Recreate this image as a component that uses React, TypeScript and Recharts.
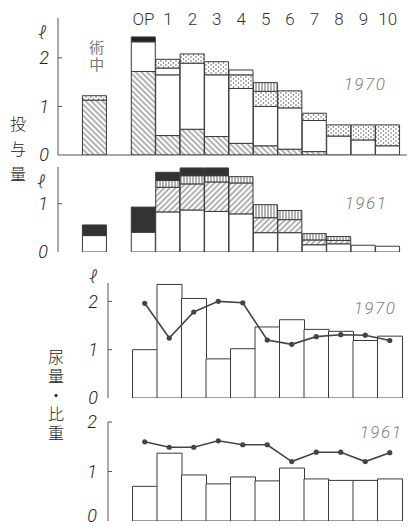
import { BarChart, Bar, ComposedChart, Line, XAxis, YAxis } from 'recharts'

const W = 411
const H = 527

// slots: leading pad, intra-op, gap, OP day, post-op days 1-10
const infusionSlots = ['', '術中', ' ', 'OP', '1', '2', '3', '4', '5', '6', '7', '8', '9', '10']
const urineSlots = [' ', 'OP', '1', '2', '3', '4', '5', '6', '7', '8', '9', '10']
const yTicks2 = [0, 1, 2]
const yTicks1 = [0, 1]

// 1970 infusion volume (l), stacked bottom to top
const hatch1970 = [null, 1.13, null, 1.72, 0.40, 0.53, 0.38, 0.24, 0.19, 0.12, 0.07, null, null, null]
const plain1970 = [null, null, null, 0.61, 1.25, 1.36, 1.27, 1.13, 0.81, 0.85, 0.64, 0.39, 0.31, 0.19]
const thin1970 = [null, null, null, null, 0.14, null, null, null, null, null, null, null, null, null]
const dots1970 = [null, 0.09, null, null, 0.18, 0.19, 0.27, 0.28, 0.31, 0.35, 0.15, 0.23, 0.31, 0.43]
const stripe1970 = [null, null, null, null, null, null, null, null, 0.18, null, null, null, null, null]
const cap1970 = [null, null, null, null, null, null, null, 0.10, null, null, null, null, null, null]
const black1970 = [null, null, null, 0.10, null, null, null, null, null, null, null, null, null, null]

// 1961 infusion volume (l)
const white1961 = [null, 0.34, null, 0.41, 0.83, 0.87, 0.84, 0.79, 0.40, 0.40, 0.15, 0.17, 0.14, 0.12]
const diag1961 = [null, null, null, null, 0.51, 0.54, 0.61, 0.64, 0.31, 0.27, 0.10, 0.07, null, null]
const stripe1961 = [null, null, null, null, 0.14, 0.17, 0.13, 0.13, 0.27, 0.19, 0.13, 0.08, null, null]
const black1961 = [null, 0.22, null, 0.52, 0.17, 0.16, 0.16, null, null, null, null, null, null, null]

// urine volume (l) and specific gravity trace
const urine1970 = [null, 1.00, 2.35, 2.06, 0.81, 1.02, 1.47, 1.62, 1.42, 1.38, 1.19, 1.28]
const sg1970 = [null, 1.96, 1.24, 1.78, 2.00, 1.97, 1.20, 1.11, 1.27, 1.31, 1.30, 1.19]
const urine1961 = [null, 0.70, 1.37, 0.93, 0.75, 0.89, 0.81, 1.07, 0.85, 0.82, 0.82, 0.85]
const sg1961 = [null, 1.60, 1.49, 1.49, 1.62, 1.54, 1.54, 1.20, 1.39, 1.39, 1.20, 1.38]

const rows1970 = infusionSlots.map((slot, i) => ({
  slot,
  hatch: hatch1970[i],
  plain: plain1970[i],
  thin: thin1970[i],
  dots: dots1970[i],
  stripe: stripe1970[i],
  cap: cap1970[i],
  black: black1970[i],
}))

const rows1961 = infusionSlots.map((slot, i) => ({
  slot,
  white: white1961[i],
  diag: diag1961[i],
  stripe: stripe1961[i],
  black: black1961[i],
}))

const urineRows1970 = urineSlots.map((slot, i) => ({ slot, urine: urine1970[i], sg: sg1970[i] }))
const urineRows1961 = urineSlots.map((slot, i) => ({ slot, urine: urine1961[i], sg: sg1961[i] }))

const INK = '#3a3a3a'
const AXIS = '#555'
const numFont = "Roboto, 'DejaVu Sans', sans-serif"
const cjkFont = "'Noto Sans CJK JP', sans-serif"

const Patterns = () => (
  <defs>
    <pattern id="hatchDown" width="4" height="4" patternUnits="userSpaceOnUse" patternTransform="rotate(-45)">
      <rect width="4" height="4" fill="#fff" />
      <line x1="1" y1="0" x2="1" y2="4" stroke="#555" strokeWidth="0.9" />
    </pattern>
    <pattern id="hatchUp" width="4" height="4" patternUnits="userSpaceOnUse" patternTransform="rotate(45)">
      <rect width="4" height="4" fill="#fff" />
      <line x1="1" y1="0" x2="1" y2="4" stroke="#555" strokeWidth="0.9" />
    </pattern>
    <pattern id="dots" width="5" height="4" patternUnits="userSpaceOnUse">
      <rect width="5" height="4" fill="#fff" />
      <circle cx="1" cy="1" r="0.75" fill="#555" />
      <circle cx="3.5" cy="3" r="0.75" fill="#555" />
    </pattern>
    <pattern id="vstripe" width="3" height="3" patternUnits="userSpaceOnUse">
      <rect width="3" height="3" fill="#fff" />
      <line x1="1" y1="0" x2="1" y2="3" stroke="#555" strokeWidth="0.9" />
    </pattern>
  </defs>
)

// y tick: label to the left, short mark pointing into the plot
const yTick = (axisX: number, labelX: number, maxY = H) => (props: any) => {
  const { y, payload } = props
  return (
    <g>
      <text x={labelX} y={Math.min(y, maxY)} dy="0.36em" textAnchor="middle" fill="#222"
        style={{ fontFamily: numFont, fontWeight: 300, fontStyle: 'italic', fontSize: 18 }}>
        {payload.value}
      </text>
      {payload.value !== 0 && <line x1={axisX} x2={axisX + 4} y1={y} y2={y} stroke={AXIS} />}
    </g>
  )
}

// day labels, drawn in a row above the first panel
const dayTick = (props: any) => {
  const { x, payload } = props
  const v = String(payload.value)
  if (v === '術中') {
    return (
      <text x={x + 2} y={57} textAnchor="middle" fill="#777"
        style={{ fontFamily: cjkFont, fontSize: 15, writingMode: 'vertical-rl', letterSpacing: 2 }}>
        {v}
      </text>
    )
  }
  if (!v.trim()) return <g />
  return (
    <text x={x} y={25} textAnchor="middle" fill="#333"
      style={{ fontFamily: numFont, fontWeight: 300, fontSize: 17 }}>
      {v}
    </text>
  )
}

const Txt = ({ x, y, size = 16, color = '#333', font = numFont, italic = false, spacing = 0, vertical = false, children }: any) => (
  <div style={{
    position: 'absolute', left: x, top: y, transform: 'translate(-50%, -50%)', lineHeight: 1,
    fontFamily: font, fontSize: size, color, fontStyle: italic ? 'italic' : 'normal',
    fontWeight: 300, letterSpacing: spacing, whiteSpace: 'nowrap',
    writingMode: vertical ? 'vertical-rl' : 'horizontal-tb',
  }}>{children}</div>
)

const layer = { position: 'absolute' as const, left: 0, top: 0 }
const seg = { stackId: 'a', stroke: INK, strokeWidth: 1, isAnimationActive: false }

export default function App() {
  return (
    <div style={{ position: 'absolute', left: 0, top: 0, width: W, height: H, background: '#fff', overflow: 'hidden' }}>
      {/* 1970 infusion */}
      <div style={layer}>
        <BarChart width={W} height={H} data={rows1970} barCategoryGap={0} barGap={0}
          margin={{ top: 18, right: 4, bottom: H - 156, left: 0 }}>
          <Patterns />
          <XAxis dataKey="slot" height={1} interval={0} tick={dayTick} tickLine={false} stroke={AXIS}
            padding={{ left: 0, right: 7 }} />
          <YAxis width={58} domain={[0, 2.82]} ticks={yTicks2} interval={0} allowDataOverflow stroke={AXIS}
            tickLine={false} tick={yTick(58, 44)} />
          <Bar dataKey="hatch" fill="url(#hatchDown)" {...seg} />
          <Bar dataKey="plain" fill="#fff" {...seg} />
          <Bar dataKey="thin" fill="#fff" {...seg} />
          <Bar dataKey="dots" fill="url(#dots)" {...seg} />
          <Bar dataKey="stripe" fill="url(#vstripe)" {...seg} />
          <Bar dataKey="cap" fill="#fff" {...seg} />
          <Bar dataKey="black" fill="#222" {...seg} />
        </BarChart>
      </div>

      {/* 1961 infusion */}
      <div style={layer}>
        <BarChart width={W} height={H} data={rows1961} barCategoryGap={0} barGap={0}
          margin={{ top: 167, right: 1, bottom: H - 252, left: 0 }}>
          <Patterns />
          <XAxis dataKey="slot" height={0} tick={false} tickLine={false} stroke={AXIS} padding={{ left: 0, right: 10 }} />
          <YAxis width={58} domain={[0, 1.76]} ticks={yTicks1} interval={0} allowDataOverflow stroke={AXIS}
            tickLine={false} tick={yTick(58, 43)} />
          <Bar dataKey="white" fill="#fff" {...seg} />
          <Bar dataKey="diag" fill="url(#hatchUp)" {...seg} />
          <Bar dataKey="stripe" fill="url(#vstripe)" {...seg} />
          <Bar dataKey="black" fill="#333" {...seg} />
        </BarChart>
      </div>

      {/* 1970 urine volume and specific gravity */}
      <div style={layer}>
        <ComposedChart width={W} height={H} data={urineRows1970} barCategoryGap={0} barGap={0}
          margin={{ top: 283, right: 0, bottom: H - 398, left: 0 }}>
          <XAxis dataKey="slot" height={0} tick={false} tickLine={false} stroke={AXIS} padding={{ left: 0, right: 9 }} />
          <YAxis width={108} domain={[0, 2.38]} ticks={yTicks2} interval={0} allowDataOverflow stroke={AXIS}
            tickLine={false} tick={yTick(108, 93)} />
          <Bar dataKey="urine" fill="#fff" stroke={INK} strokeWidth={1} isAnimationActive={false} />
          <Line dataKey="sg" stroke="#444" strokeWidth={1.6} isAnimationActive={false}
            dot={{ r: 2.6, fill: '#444', stroke: '#444', strokeWidth: 0 }} />
        </ComposedChart>
      </div>

      {/* 1961 urine volume and specific gravity */}
      <div style={layer}>
        <ComposedChart width={W} height={H} data={urineRows1961} barCategoryGap={0} barGap={0}
          margin={{ top: 422, right: 0, bottom: H - 521, left: 0 }}>
          <XAxis dataKey="slot" height={0} tick={false} tickLine={false} stroke={AXIS} padding={{ left: 0, right: 9 }} />
          <YAxis width={108} domain={[0, 2]} ticks={yTicks2} interval={0} allowDataOverflow stroke={AXIS}
            tickLine={false} tick={yTick(108, 92, 516)} />
          <Bar dataKey="urine" fill="#fff" stroke={INK} strokeWidth={1} isAnimationActive={false} />
          <Line dataKey="sg" stroke="#444" strokeWidth={1.6} isAnimationActive={false}
            dot={{ r: 2.6, fill: '#444', stroke: '#444', strokeWidth: 0 }} />
        </ComposedChart>
      </div>

      {/* unit marks */}
      <Txt x={42} y={33} size={18} italic>ℓ</Txt>
      <Txt x={41} y={182} size={18} italic>ℓ</Txt>
      <Txt x={93} y={277} size={18} italic>ℓ</Txt>

      {/* year tags */}
      <Txt x={365} y={84} size={17} color="#808080" italic spacing={1.5}>1970</Txt>
      <Txt x={366} y={203} size={17} color="#808080" italic spacing={1.5}>1961</Txt>
      <Txt x={375} y={308} size={17} color="#808080" italic spacing={1.5}>1970</Txt>
      <Txt x={381} y={432} size={17} color="#808080" italic spacing={1.5}>1961</Txt>

      {/* vertical captions */}
      <Txt x={18} y={153} size={16} font={cjkFont} color="#222" spacing={9} vertical>投与量</Txt>
      <Txt x={56} y={396} size={16} font={cjkFont} color="#222" spacing={3} vertical>尿量・比重</Txt>
    </div>
  )
}
